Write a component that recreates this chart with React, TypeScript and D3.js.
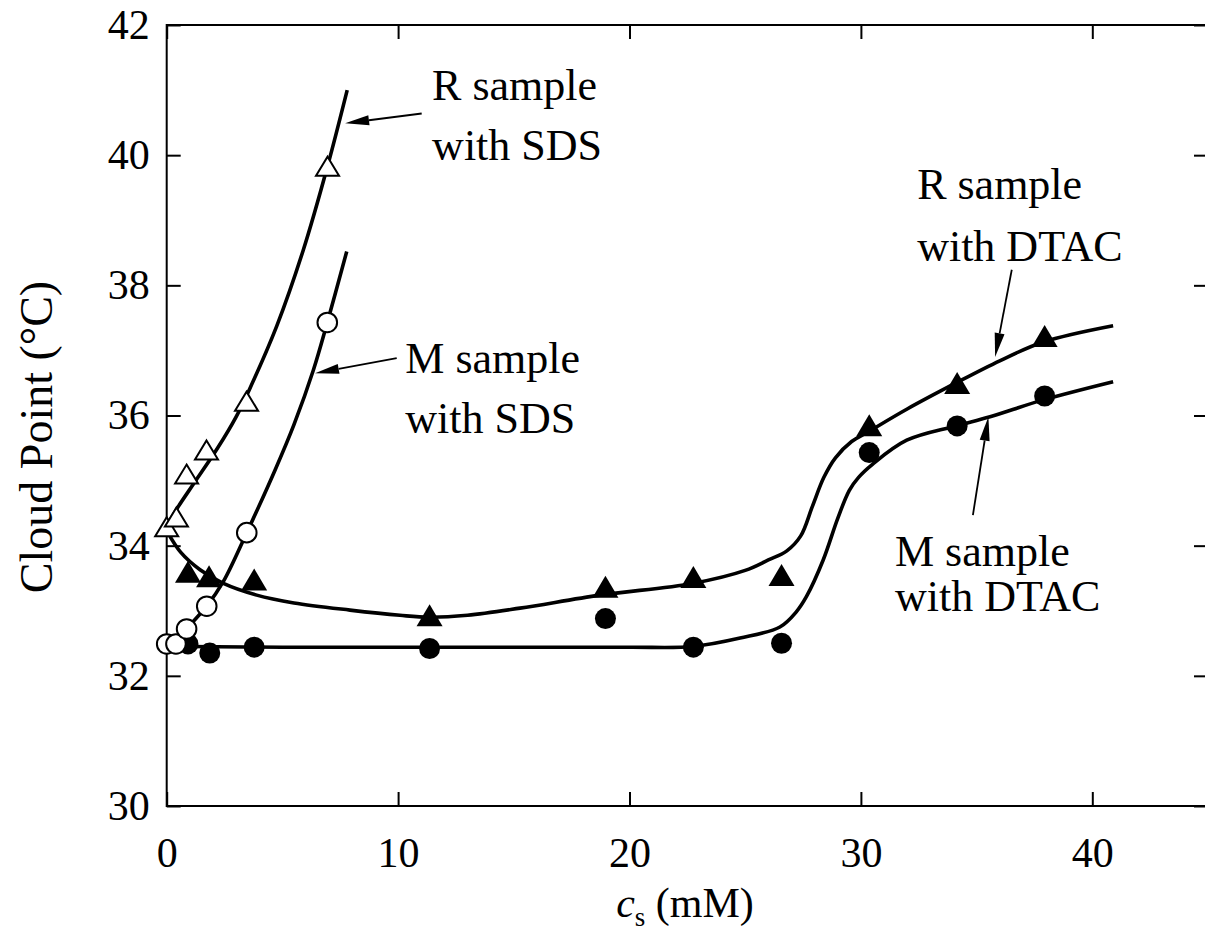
import React, { useEffect, useRef } from "react";
import * as d3 from "d3";

// Cloud point vs surfactant concentration, four sample/surfactant pairs

const xTicks = [0, 10, 20, 30, 40];
const yTicks = [30, 32, 34, 36, 38, 40, 42];

// open triangles - R sample with SDS
const rSdsX = [0, 0.42, 0.86, 1.72, 3.45, 6.95];
const rSdsY = [34.29, 34.44, 35.1, 35.47, 36.22, 39.83];

// open circles - M sample with SDS
const mSdsX = [0, 0.4, 0.86, 1.73, 3.46, 6.94];
const mSdsY = [32.49, 32.49, 32.72, 33.07, 34.2, 37.43];

// filled triangles - R sample with DTAC
const rDtacX = [0.92, 1.83, 3.78, 11.36, 18.96, 22.76, 26.57, 30.36, 34.16, 37.94];
const rDtacY = [33.6, 33.53, 33.48, 32.93, 33.37, 33.52, 33.55, 35.85, 36.5, 37.22];

// filled circles - M sample with DTAC
const mDtacX = [0.92, 1.86, 3.78, 11.36, 18.96, 22.76, 26.57, 30.36, 34.16, 37.94];
const mDtacY = [32.49, 32.35, 32.44, 32.42, 32.88, 32.44, 32.5, 35.43, 35.84, 36.3];

// guide curves drawn through the data
const rSdsFitX = [0, 0.5, 1.2, 2.2, 3.0, 3.6, 4.75, 5.9, 6.95, 7.8];
const rSdsFitY = [34.3, 34.6, 34.97, 35.5, 35.98, 36.42, 37.37, 38.54, 39.83, 41.0];

const mSdsFitX = [0.4, 0.86, 1.73, 2.45, 3.46, 4.68, 5.5, 6.34, 6.94, 7.78];
const mSdsFitY = [32.5, 32.72, 33.07, 33.45, 34.2, 35.16, 35.86, 36.7, 37.43, 38.52];

const rDtacFitX = [0.05, 0.6, 1.44, 2.45, 3.89, 5.5, 7.92, 10.08, 11.35, 13, 15.27, 18.73, 22.73, 25, 26, 26.8, 27.4, 27.9, 28.4, 28.9, 29.6, 30.32, 32, 34.11, 36, 37.88, 40.9];
const rDtacFitY = [34.2, 33.9, 33.63, 33.42, 33.24, 33.12, 33.01, 32.93, 32.9, 32.93, 33.04, 33.24, 33.42, 33.62, 33.78, 33.92, 34.15, 34.6, 35.05, 35.35, 35.6, 35.75, 36.1, 36.5, 36.84, 37.13, 37.38];

const mDtacFitX = [0.92, 5, 10, 15, 20, 22.73, 24.78, 26.5, 27.2, 27.65, 28.37, 29.0, 29.5, 29.9, 30.5, 31.98, 34.11, 35.58, 37.88, 40.9];
const mDtacFitY = [32.45, 32.44, 32.44, 32.44, 32.44, 32.45, 32.58, 32.75, 32.98, 33.22, 33.78, 34.42, 34.85, 35.05, 35.25, 35.62, 35.84, 35.98, 36.24, 36.52];

// annotation labels: [line1, line2], left x and baselines in data units
const noteLines = [
  ["R sample", "with SDS"],
  ["M sample", "with SDS"],
  ["R sample", "with DTAC"],
  ["M sample", "with DTAC"],
];
const noteX = [11.47, 10.31, 32.43, 31.47];
const noteY1 = [40.84, 36.65, 39.33, 33.69];
const noteY2 = [39.93, 35.73, 38.38, 33.0];

// arrows: tail -> tip, data units
const arrowTailX = [11.02, 9.94, 36.52, 34.84];
const arrowTailY = [40.64, 36.88, 38.24, 34.47];
const arrowTipX = [7.71, 6.41, 35.8, 35.51];
const arrowTipY = [40.49, 36.65, 36.9, 35.98];

const zip = (xs: number[], ys: number[]) => xs.map((x, i) => ({ x, y: ys[i] }));

const App = () => {
  const svgRef = useRef<SVGSVGElement>(null);

  useEffect(() => {
    const svg = d3.select(svgRef.current);
    svg.selectAll("*").remove();

    const width = 1205;
    const height = 945;
    const serif = "'Liberation Serif', 'Times New Roman', serif";

    const x = d3.scaleLinear().domain([0, 45]).range([166.7, 166.7 + 45 * 23.14]);
    const y = d3.scaleLinear().domain([30, 42]).range([806, 25]);

    svg.append("rect").attr("width", width).attr("height", height).attr("fill", "white");

    //frame
    svg
      .append("rect")
      .attr("x", x(0))
      .attr("y", y(42))
      .attr("width", x(45) - x(0))
      .attr("height", y(30) - y(42))
      .attr("fill", "none")
      .attr("stroke", "black")
      .attr("stroke-width", 2);

    const tick = 14;
    const styleAxis = (g: any) => {
      g.select(".domain").remove();
      g.selectAll("line").attr("stroke", "black").attr("stroke-width", 2);
      g.attr("font-family", serif).attr("font-size", 42);
      g.selectAll("text").attr("fill", "black");
    };

    svg
      .append("g")
      .attr("transform", `translate(0,${y(30)})`)
      .call(d3.axisBottom(x).tickValues(xTicks).tickSizeInner(-tick).tickSizeOuter(0).tickPadding(31).tickFormat(d3.format("d")))
      .call(styleAxis);
    svg
      .append("g")
      .attr("transform", `translate(0,${y(42)})`)
      .call(d3.axisTop(x).tickValues(xTicks).tickSizeInner(-tick).tickSizeOuter(0).tickFormat(() => ""))
      .call(styleAxis);
    svg
      .append("g")
      .attr("transform", `translate(${x(0)},0)`)
      .call(d3.axisLeft(y).tickValues(yTicks).tickSizeInner(-tick).tickSizeOuter(0).tickPadding(17).tickFormat(d3.format("d")))
      .call(styleAxis);
    svg
      .append("g")
      .attr("transform", `translate(${x(45)},0)`)
      .call(d3.axisRight(y).tickValues(yTicks).tickSizeInner(-tick).tickSizeOuter(0).tickFormat(() => ""))
      .call(styleAxis);

    //axis titles
    const xt = svg
      .append("text")
      .attr("x", 685)
      .attr("y", 917)
      .attr("text-anchor", "middle")
      .attr("font-family", serif)
      .attr("font-size", 42);
    xt.append("tspan").attr("font-style", "italic").text("c");
    xt.append("tspan").attr("font-size", 27).attr("dy", 9).text("s");
    xt.append("tspan").attr("dy", -9).text(" (mM)");

    svg
      .append("text")
      .attr("transform", `translate(52,437) rotate(-90)`)
      .attr("text-anchor", "middle")
      .attr("font-family", serif)
      .attr("font-size", 46)
      .text("Cloud Point (°C)");

    //fitted curves
    const line = d3
      .line<{ x: number; y: number }>()
      .x((d) => x(d.x))
      .y((d) => y(d.y))
      .curve(d3.curveCatmullRom.alpha(0.5));

    [
      zip(rSdsFitX, rSdsFitY),
      zip(mSdsFitX, mSdsFitY),
      zip(rDtacFitX, rDtacFitY),
      zip(mDtacFitX, mDtacFitY),
    ].forEach((pts) => {
      svg
        .append("path")
        .datum(pts)
        .attr("fill", "none")
        .attr("stroke", "black")
        .attr("stroke-width", 3.6)
        .attr("d", line);
    });

    //markers
    const tri = (w: number, h: number) => `M0,${-h / 2}L${w / 2},${h / 2}L${-w / 2},${h / 2}Z`;

    svg
      .append("g")
      .selectAll("path")
      .data(zip(rDtacX, rDtacY))
      .enter()
      .append("path")
      .attr("transform", (d) => `translate(${x(d.x)},${y(d.y)})`)
      .attr("d", tri(26, 22))
      .attr("fill", "black");

    svg
      .append("g")
      .selectAll("circle")
      .data(zip(mDtacX, mDtacY))
      .enter()
      .append("circle")
      .attr("cx", (d) => x(d.x))
      .attr("cy", (d) => y(d.y))
      .attr("r", 10.5)
      .attr("fill", "black");

    svg
      .append("g")
      .selectAll("circle")
      .data(zip(mSdsX, mSdsY))
      .enter()
      .append("circle")
      .attr("cx", (d) => x(d.x))
      .attr("cy", (d) => y(d.y))
      .attr("r", 9.8)
      .attr("fill", "white")
      .attr("stroke", "black")
      .attr("stroke-width", 2);

    svg
      .append("g")
      .selectAll("path")
      .data(zip(rSdsX, rSdsY))
      .enter()
      .append("path")
      .attr("transform", (d) => `translate(${x(d.x)},${y(d.y)})`)
      .attr("d", tri(23, 19))
      .attr("fill", "white")
      .attr("stroke", "black")
      .attr("stroke-width", 2)
      .attr("stroke-linejoin", "miter");

    //arrows
    arrowTailX.forEach((_, i) => {
      const x0 = x(arrowTailX[i]);
      const y0 = y(arrowTailY[i]);
      const x1 = x(arrowTipX[i]);
      const y1 = y(arrowTipY[i]);
      const len = Math.hypot(x1 - x0, y1 - y0);
      const ux = (x1 - x0) / len;
      const uy = (y1 - y0) / len;
      const L = 24;
      const hw = 5;
      const bx = x1 - ux * L;
      const by = y1 - uy * L;
      svg
        .append("line")
        .attr("x1", x0)
        .attr("y1", y0)
        .attr("x2", bx)
        .attr("y2", by)
        .attr("stroke", "black")
        .attr("stroke-width", 1.8);
      svg
        .append("path")
        .attr("d", `M${x1},${y1}L${bx - uy * hw},${by + ux * hw}L${bx + uy * hw},${by - ux * hw}Z`)
        .attr("fill", "black");
    });

    //annotation text
    noteLines.forEach((lines, i) => {
      [noteY1[i], noteY2[i]].forEach((yy, j) => {
        svg
          .append("text")
          .attr("x", x(noteX[i]))
          .attr("y", y(yy))
          .attr("font-family", serif)
          .attr("font-size", 44)
          .text(lines[j]);
      });
    });
  }, []);

  return (
    <svg
      ref={svgRef}
      width={1205}
      height={945}
      style={{ position: "absolute", left: 0, top: 0 }}
    />
  );
};

export default App;
